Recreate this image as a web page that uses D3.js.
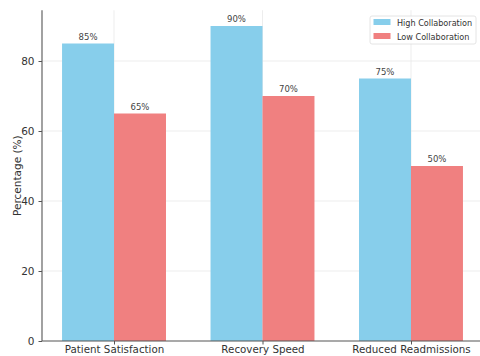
<!DOCTYPE html>
<html>
<head>
<meta charset="utf-8">
<script src="https://cdn.jsdelivr.net/npm/d3@7"></script>
<style>
  html, body { margin: 0; padding: 0; background: #fff; }
  svg { display: block; font-family: "DejaVu Sans", sans-serif; }
</style>
</head>
<body>
<svg id="chart" width="480" height="356"></svg>
<script>
// Outcome measures and the two collaboration groups
const categories = ["Patient Satisfaction", "Recovery Speed", "Reduced Readmissions"];
const seriesNames = ["High Collaboration", "Low Collaboration"];
const highValues = [85, 90, 75];
const lowValues = [65, 70, 50];
const yTicks = [0, 20, 40, 60, 80];

const colors = ["#87CEEB", "#F08080"];
const series = [highValues, lowValues];

const svg = d3.select("#chart");
const plot = { left: 42, right: 483, top: 10.25, bottom: 341 };

// Numeric x scale in category units, with bars offset by half a bar width
const barW = 0.35;
const x = d3.scaleLinear().domain([-0.485, 2.485]).range([plot.left, plot.right]);
const y = d3.scaleLinear().domain([0, 94.5]).range([plot.bottom, plot.top]);

// Grid lines
const grid = svg.append("g").attr("stroke", "#e8e8e8").attr("stroke-width", 0.8);
grid.selectAll("line.h").data(yTicks.filter(d => d > 0)).join("line")
  .attr("x1", plot.left).attr("x2", plot.right)
  .attr("y1", d => y(d)).attr("y2", d => y(d));
grid.selectAll("line.v").data(categories).join("line")
  .attr("x1", (d, i) => x(i)).attr("x2", (d, i) => x(i))
  .attr("y1", plot.top).attr("y2", plot.bottom);

// Bars
series.forEach((vals, s) => {
  const offset = s === 0 ? -barW : 0;
  svg.append("g").selectAll("rect").data(vals).join("rect")
    .attr("x", (d, i) => x(i + offset))
    .attr("width", x(barW) - x(0))
    .attr("y", d => y(d))
    .attr("height", d => y(0) - y(d))
    .attr("fill", colors[s]);
  svg.append("g").selectAll("text").data(vals).join("text")
    .attr("x", (d, i) => x(i + offset + barW / 2))
    .attr("y", d => y(d) - 4)
    .attr("text-anchor", "middle")
    .attr("font-size", 8.5)
    .attr("fill", "#444")
    .text(d => d + "%");
});

// Axes
const yAxis = d3.axisLeft(y).tickValues(yTicks).tickSize(3.5).tickPadding(4);
const gy = svg.append("g").attr("transform", `translate(${plot.left},0)`).call(yAxis);
gy.select(".domain").attr("stroke", "#555").attr("stroke-width", 1.1)
  .attr("d", `M0,${plot.bottom}V${plot.top}`);
gy.selectAll(".tick line").attr("stroke", "#555");
gy.selectAll(".tick text").attr("font-size", 10.5).attr("fill", "#333").attr("font-family", "DejaVu Sans");

const xAxis = d3.axisBottom(x).tickValues([0, 1, 2]).tickFormat(i => categories[i]).tickSize(3.5).tickPadding(1);
const gx = svg.append("g").attr("transform", `translate(0,${plot.bottom})`).call(xAxis);
gx.select(".domain").attr("stroke", "#555").attr("stroke-width", 1.1)
  .attr("d", `M${plot.left},0H${plot.right}`);
gx.selectAll(".tick line").attr("stroke", "#555");
gx.selectAll(".tick text").attr("font-size", 10.3).attr("fill", "#333").attr("font-family", "DejaVu Sans");

// Y axis title
svg.append("text")
  .attr("transform", `translate(21,${(plot.top + plot.bottom) / 2}) rotate(-90)`)
  .attr("text-anchor", "middle")
  .attr("font-size", 10.5)
  .attr("fill", "#333")
  .text("Percentage (%)");

// Legend
const lg = svg.append("g").attr("transform", "translate(370,16)");
lg.append("rect").attr("width", 106).attr("height", 28).attr("rx", 2)
  .attr("fill", "#fff").attr("fill-opacity", 0.85)
  .attr("stroke", "#ddd").attr("stroke-width", 0.8);
seriesNames.forEach((name, i) => {
  lg.append("rect").attr("x", 3.5).attr("y", 3 + i * 14).attr("width", 17).attr("height", 6)
    .attr("fill", colors[i]);
  lg.append("text").attr("x", 27).attr("y", 9.5 + i * 14)
    .attr("font-size", 8.1).attr("fill", "#333").text(name);
});
</script>
</body>
</html>
